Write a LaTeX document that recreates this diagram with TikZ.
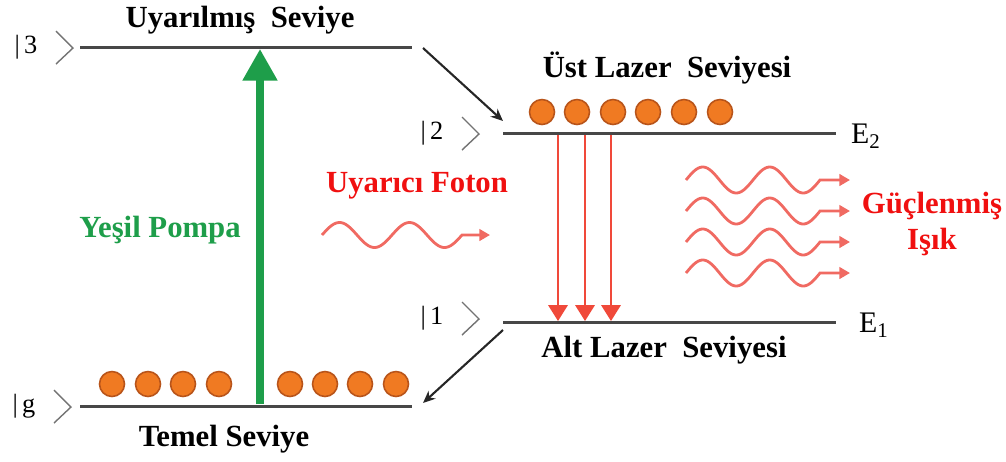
\documentclass[tikz,border=0pt]{standalone}
\usepackage{fontspec}
\setmainfont{Liberation Serif}
\usetikzlibrary{arrows.meta}
\definecolor{levelgray}{HTML}{474747}
\definecolor{pumpgreen}{HTML}{1E9E4A}
\definecolor{laserred}{HTML}{F0493A}
\definecolor{wavered}{HTML}{F06A62}
\definecolor{txtred}{HTML}{F01010}
\definecolor{electronfill}{HTML}{F07A22}
\definecolor{electronedge}{HTML}{B8541A}
\begin{document}
\begin{tikzpicture}[x=0.02cm,y=-0.02cm,
    level/.style={line width=1.7pt,color=levelgray},
    lbl/.style={font=\fontsize{17.5}{21}\selectfont\bfseries},
    ket/.style={font=\fontsize{15}{18}\selectfont,inner sep=0pt},
    chevron/.style={black!55,line width=0.8pt},
    electron/.style={fill=electronfill,draw=electronedge,line width=0.9pt},
    pumparrow/.style={pumpgreen,line width=4pt,-{Triangle[length=18pt,width=19pt]}},
    decay/.style={laserred,line width=1.1pt,-{Triangle[length=9pt,width=11pt]}},
    relax/.style={black!85,line width=1.2pt,-{Stealth[length=7pt,width=6pt]}},
    wave/.style={wavered,line width=1.6pt,-{Triangle[length=6pt,width=6.5pt]}}]
        \useasboundingbox (0,0) rectangle (1006,461);
        % energy levels
        \coordinate (L3a) at (80,47);   \coordinate (L3b) at (412,47);
        \coordinate (L2a) at (503,133); \coordinate (L2b) at (836,133);
        \coordinate (L1a) at (503,322); \coordinate (L1b) at (836,322);
        \coordinate (Lga) at (80,406);  \coordinate (Lgb) at (412,406);
        \draw[level] (L3a) -- (L3b);
        \draw[level] (L2a) -- (L2b);
        \draw[level] (L1a) -- (L1b);
        \draw[level] (Lga) -- (Lgb);
        \foreach \n/\x/\y in {3/26/47, 2/432/133, 1/432/318, g/24/406} {
            \node[ket] (k\n) at (\x,\y) {|\,\n};
            \draw[chevron] (\x+30,\y-16) -- (\x+47,\y+1) -- (\x+30,\y+17);
        }
        \node[lbl] (top) at (240,20) {Uyarılmış\ \ Seviye};
        \node[lbl] (up) at (667,68) {Üst Lazer\ \ Seviyesi};
        \node[lbl] (low) at (664,350) {Alt Lazer\ \ Seviyesi};
        \node[lbl] (ground) at (224,439) {Temel Seviye};
        \node[font=\fontsize{17}{21}\selectfont] (E2) at (866,136) {E\textsubscript{2}};
        \node[font=\fontsize{17}{21}\selectfont] (E1) at (874,325) {E\textsubscript{1}};
        % electrons
        \foreach \x in {112,148,183,219,290,325,360,396}
            \draw[electron] (\x,384) circle[radius=12.5];
        \foreach \x in {542,577,613,648,684,720}
            \draw[electron] (\x,112) circle[radius=12.5];
        % pump and transitions
        \coordinate (pb) at (260,404); \coordinate (pt) at (260,49);
        \draw[pumparrow] (pb) -- (pt);
        \node[lbl,pumpgreen] (pump) at (160,230) {Yeşil Pompa};
        \coordinate (r3) at (423,48);  \coordinate (r2) at (503,121);
        \coordinate (r1) at (503,330); \coordinate (rg) at (423,403);
        \draw[relax] (r3) -- (r2);
        \draw[relax] (r1) -- (rg);
        \foreach \x in {558,585,611}
            \draw[decay] (\x,135) -- (\x,321);
        % photons
        \node[lbl,txtred] (stim) at (417,186) {Uyarıcı Foton};
        \draw[wave] plot[variable=\t,domain=0:140,samples=90,smooth] ({322+\t},{235-12.5*sin(\t/70*360)}) -- ++(28,0);
        \foreach \y in {180,211,242,273}
            \draw[wave] plot[variable=\t,domain=0:134,samples=90,smooth] ({686+\t},{\y-13*sin(\t/67*360)}) -- ++(30,0);
        \node[lbl,txtred,align=center] (out) at (932,224) {Güçlenmiş\\Işık};
\end{tikzpicture}
\end{document}
